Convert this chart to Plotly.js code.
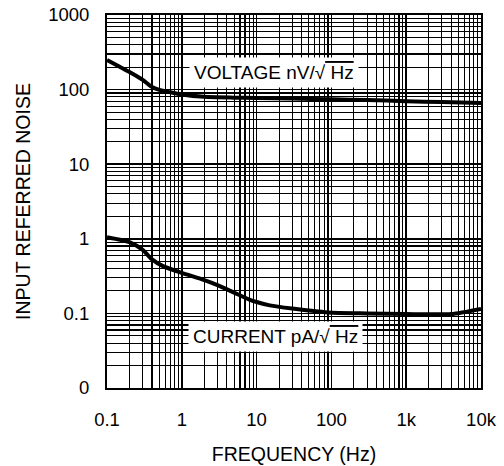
<!DOCTYPE html>
<html>
<head>
<meta charset="utf-8">
<script src="https://cdn.plot.ly/plotly-3.0.1.min.js"></script>
<style>html,body{margin:0;padding:0;background:#fff;}#chart{width:504px;height:466px;}</style>
</head>
<body>
<div id="chart"></div>
<script>
// Frequency (Hz) sample points
const freqVoltage = [0.1, 0.2, 0.3, 0.4, 0.5, 0.7, 1, 2, 5, 10, 30, 100, 300, 1000, 3000, 10000];
// Voltage noise nV/sqrt(Hz)
const voltageNoise = [250, 172, 135, 108, 99, 92, 86, 80, 78, 77, 76, 74, 72.5, 70, 68, 66];

const freqCurrent = [0.1, 0.15, 0.2, 0.3, 0.4, 0.56, 1, 2, 3, 5, 8, 10, 15, 30, 90, 300, 1000, 4000, 10000];
// Current noise pA/sqrt(Hz)
const currentNoise = [1.05, 0.97, 0.9, 0.71, 0.53, 0.43, 0.35, 0.28, 0.24, 0.19, 0.153, 0.142, 0.128, 0.116, 0.103, 0.1, 0.098, 0.098, 0.115];

const xTickVals = [0.1, 1, 10, 100, 1000, 10000];
const xTickText = ['0.1', '1', '10', '100', '1k', '10k'];
const yTickVals = [0.01, 0.1, 1, 10, 100, 1000];
const yTickText = ['0', '0.1', '1', '10', '100', '1000'];

const font = 'Liberation Sans, Arial, Helvetica, sans-serif';

const traces = [
  {x: freqVoltage, y: voltageNoise, type: 'scatter', mode: 'lines',
   line: {color: '#000', width: 4, shape: 'spline', smoothing: 0.5}, hoverinfo: 'skip'},
  {x: freqCurrent, y: currentNoise, type: 'scatter', mode: 'lines',
   line: {color: '#000', width: 4, shape: 'spline', smoothing: 0.6}, hoverinfo: 'skip'}
];

const axisCommon = {
  type: 'log',
  showline: true, mirror: true, linecolor: '#000', linewidth: 2,
  showgrid: true, gridcolor: '#000', gridwidth: 1.5,
  ticks: '', zeroline: false,
  tickfont: {family: font, size: 18.5, color: '#000'},
  minor: {dtick: 'D1', showgrid: true, gridcolor: '#000', gridwidth: 1.1, ticks: ''}
};

const layout = {
  width: 504, height: 466,
  margin: {l: 107, r: 23, t: 15, b: 78},
  paper_bgcolor: '#fff', plot_bgcolor: '#fff',
  showlegend: false,
  xaxis: Object.assign({}, axisCommon, {
    range: [-1, 4],
    tickmode: 'array', tickvals: xTickVals, ticktext: xTickText,
    ticklabelstandoff: 14,
    title: {text: 'FREQUENCY (Hz)', font: {family: font, size: 19.5, color: '#000'}, standoff: 18}
  }),
  yaxis: Object.assign({}, axisCommon, {
    range: [-2, 3],
    tickmode: 'array', tickvals: yTickVals, ticktext: yTickText,
    ticklabelstandoff: 12,
    title: {text: 'INPUT REFERRED NOISE', font: {family: font, size: 19.5, color: '#000'}, standoff: 12}
  }),
  annotations: [
    {xref: 'paper', yref: 'paper', x: 0.4465, y: 0.846, xanchor: 'center', yanchor: 'middle',
     text: 'VOLTAGE nV/√<span style="text-decoration:overline">\u00A0Hz</span>', showarrow: false,
     bgcolor: '#fff', borderpad: 4, font: {family: font, size: 19, color: '#000'}},
    {xref: 'paper', yref: 'paper', x: 0.4505, y: 0.139, xanchor: 'center', yanchor: 'middle',
     text: 'CURRENT pA/√<span style="text-decoration:overline">\u00A0Hz</span>', showarrow: false,
     bgcolor: '#fff', borderpad: 4, font: {family: font, size: 19, color: '#000'}}
  ]
};

Plotly.newPlot('chart', traces, layout, {displayModeBar: false, staticPlot: true});
</script>
</body>
</html>
